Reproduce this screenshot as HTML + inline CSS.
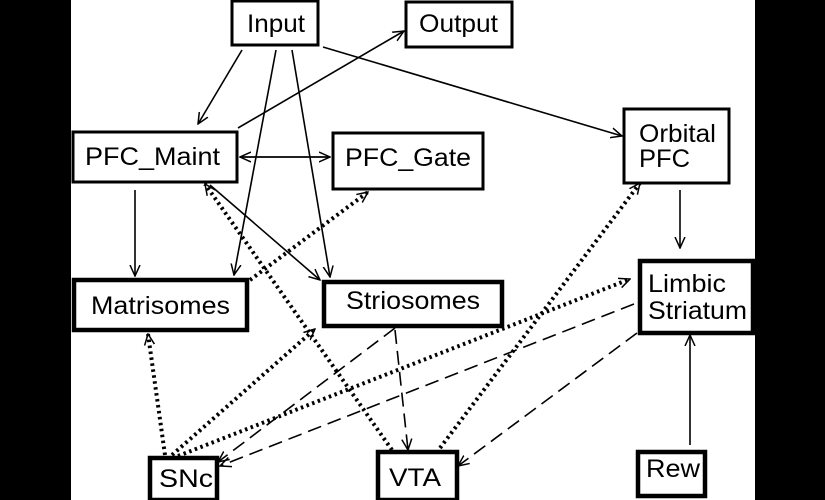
<!DOCTYPE html>
<html><head><style>
html,body{margin:0;padding:0;background:#000;}
svg{display:block}
text{font-family:"Liberation Sans",sans-serif;font-size:25px;fill:#000}
</style></head><body>
<svg width="825" height="500" viewBox="0 0 825 500" xmlns="http://www.w3.org/2000/svg">
<defs>
<marker id="a" markerWidth="12" markerHeight="12" refX="11" refY="6" orient="auto" markerUnits="userSpaceOnUse">
<path d="M0,1 L11,6 L0,11" fill="none" stroke="#000" stroke-width="1.5"/></marker>
</defs>
<rect x="71" y="0" width="684" height="500" fill="#fff"/>
<g stroke="#000" stroke-width="1.6" fill="none" marker-end="url(#a)">
<line x1="242" y1="50" x2="198" y2="124"/>
<line x1="238" y1="128" x2="404" y2="31"/>
<line x1="323" y1="47" x2="622" y2="136"/>
<line x1="276" y1="50" x2="234" y2="275"/>
<line x1="292" y1="50" x2="330" y2="277"/>
<line x1="240" y1="157" x2="330" y2="157"/>
<line x1="330" y1="157" x2="240" y2="157"/>
<line x1="135" y1="190" x2="135" y2="276"/>
<line x1="210" y1="185" x2="320" y2="280"/>
<line x1="680" y1="190" x2="680" y2="248"/>
<line x1="690" y1="445" x2="690" y2="335"/>
</g>
<g stroke="#000" stroke-width="4" fill="none" stroke-dasharray="2.5 3.5" marker-end="url(#a)">
<line x1="250" y1="280" x2="368" y2="192"/>
<line x1="392" y1="450" x2="205" y2="184"/>
<line x1="165" y1="455" x2="148" y2="334"/>
<line x1="172" y1="455" x2="315" y2="329"/>
<line x1="178" y1="456" x2="630" y2="279"/>
<line x1="440" y1="448" x2="640" y2="183"/>
</g>
<g stroke="#000" stroke-width="1.6" fill="none" stroke-dasharray="14 7" marker-end="url(#a)">
<line x1="395" y1="330" x2="408" y2="450"/>
<line x1="395" y1="328" x2="218" y2="462"/>
<line x1="634" y1="304" x2="220" y2="466"/>
<line x1="637" y1="333" x2="458" y2="466"/>
</g>
<g fill="#fff" stroke="#000">
<rect x="232" y="1" width="86" height="44" stroke-width="3"/>
<rect x="406" y="2" width="106" height="45" stroke-width="3"/>
<rect x="73" y="132" width="164" height="50" stroke-width="3"/>
<rect x="333" y="133" width="150" height="56" stroke-width="3"/>
<rect x="624" y="109" width="105" height="74" stroke-width="3"/>
<rect x="74" y="280" width="173" height="50" stroke-width="4.5"/>
<rect x="324" y="282" width="178" height="44" stroke-width="4.5"/>
<rect x="640" y="261" width="113" height="72" stroke-width="4.5"/>
<rect x="150" y="458" width="67" height="42" stroke-width="4.5"/>
<rect x="378" y="452" width="79" height="48" stroke-width="4.5"/>
<rect x="638" y="452" width="67" height="44" stroke-width="4.5"/>
</g>
<g>
<text x="247" y="32" textLength="58" lengthAdjust="spacingAndGlyphs">Input</text>
<text x="419" y="32" textLength="79" lengthAdjust="spacingAndGlyphs">Output</text>
<text x="85" y="165" textLength="135" lengthAdjust="spacingAndGlyphs">PFC_Maint</text>
<text x="345" y="166" textLength="126" lengthAdjust="spacingAndGlyphs">PFC_Gate</text>
<text x="639" y="142" textLength="77" lengthAdjust="spacingAndGlyphs">Orbital</text>
<text x="639" y="167" textLength="51" lengthAdjust="spacingAndGlyphs">PFC</text>
<text x="91" y="314" textLength="139" lengthAdjust="spacingAndGlyphs">Matrisomes</text>
<text x="346" y="309" textLength="134" lengthAdjust="spacingAndGlyphs">Striosomes</text>
<text x="648" y="292" textLength="78" lengthAdjust="spacingAndGlyphs">Limbic</text>
<text x="648" y="319" textLength="99" lengthAdjust="spacingAndGlyphs">Striatum</text>
<text x="159" y="487" textLength="54" lengthAdjust="spacingAndGlyphs">SNc</text>
<text x="389" y="486" textLength="52" lengthAdjust="spacingAndGlyphs">VTA</text>
<text x="646" y="477" textLength="54" lengthAdjust="spacingAndGlyphs">Rew</text>
</g>
</svg>
</body></html>
